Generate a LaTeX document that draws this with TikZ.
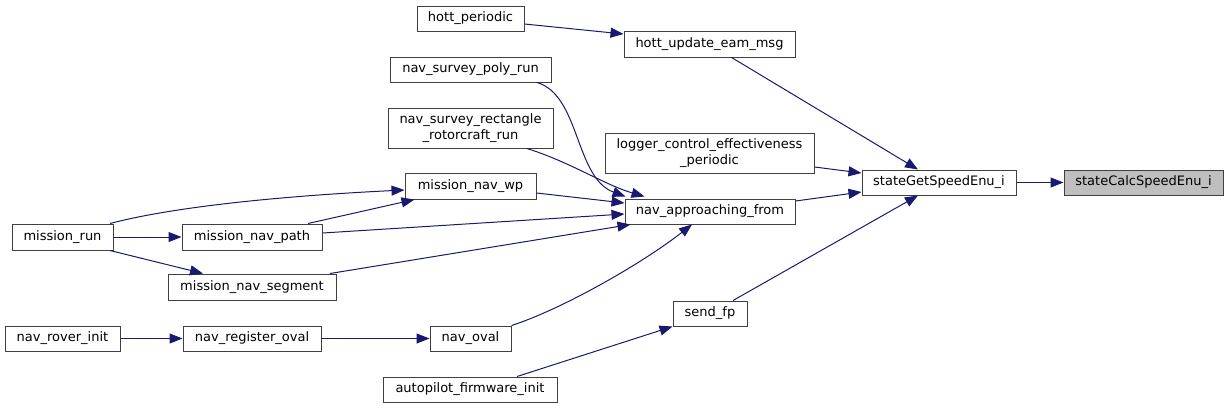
\documentclass[tikz,border=0pt]{standalone}
\usepackage{fontspec}
\setmainfont{DejaVu Sans}
\usetikzlibrary{arrows.meta}
\definecolor{edgeblue}{HTML}{191970}
\definecolor{boxline}{HTML}{404040}
\definecolor{hilite}{HTML}{BFBFBF}
\begin{document}
\begin{tikzpicture}[x=1pt,y=-1pt,
  box/.style 2 args={draw=boxline, line width=1pt, fill=white, inner sep=0pt, align=center,
    minimum width=#1pt, minimum height=#2pt, font=\fontsize{13pt}{16pt}\selectfont},
  call/.style={draw=edgeblue, line width=1pt, -{Triangle[length=13pt,width=10pt]}, edgeblue}]
\useasboundingbox (0,0) rectangle (1228,408);
% nodes
\node[box={101}{26}] (mr) at (62.5,237) {mission\_run};
\node[box={140}{26}] (mp) at (252,237) {mission\_nav\_path};
\node[box={168}{26}] (ms) at (252,287) {mission\_nav\_segment};
\node[box={115}{25}] (nri) at (62.5,338.5) {nav\_rover\_init};
\node[box={138}{25}] (nro) at (252,338.5) {nav\_register\_oval};
\node[box={174}{25}] (afi) at (470,389.5) {autopilot\_firmware\_init};
\node[box={107}{25}] (hp) at (470.5,18.5) {hott\_periodic};
\node[box={161}{25}] (poly) at (470.5,69.5) {nav\_survey\_poly\_run};
\node[box={165}{40}] (rect) at (470.5,128) {nav\_survey\_rectangle\\\_rotorcraft\_run};
\node[box={131}{26}] (wp) at (470.5,186) {mission\_nav\_wp};
\node[box={81}{25}] (nov) at (470.5,338.5) {nav\_oval};
\node[box={171}{26}] (hu) at (709.5,44) {hott\_update\_eam\_msg};
\node[box={209}{40}] (lg) at (709.5,153) {logger\_control\_effectiveness\\\_periodic};
\node[box={170}{25}] (na) at (710,211.5) {nav\_approaching\_from};
\node[box={74}{25}] (sf) at (710,313.5) {send\_fp};
\node[box={154}{25}] (sg) at (939,182.5) {stateGetSpeedEnu\_i};
\node[box={159}{25}, fill=hilite] (sc) at (1143.5,182.5) {stateCalcSpeedEnu\_i};
% edges
\draw[call] ([yshift=-5.5pt]hp.east) -- ([yshift=10pt]hu.west);
\draw[call] ([xshift=22pt]hu.south) -- ([xshift=-21pt]sg.north);
\draw[call] ([yshift=-14pt]lg.east) -- ([yshift=9.5pt]sg.west);
\draw[call] ([yshift=10.5pt]na.east) -- ([yshift=-9.5pt]sg.west);
\draw[call] ([xshift=23pt]sf.north) -- ([xshift=-21pt]sg.south);
\draw[call] (sg.east) -- (sc.west);
\draw[call] ([xshift=66.5pt]poly.south) .. controls (580,95) and (575,178) .. ([xshift=1pt,yshift=2pt]na.north west);
\draw[call] ([xshift=56.5pt]rect.south) .. controls (570,162) and (605,185) .. ([xshift=20pt,yshift=2pt]na.north west);
\draw[call] ([yshift=-7pt]wp.east) -- ([yshift=8.5pt]na.west);
\draw[call] ([yshift=4pt]mp.east) -- ([yshift=-2.5pt]na.west);
\draw[call] ([xshift=78pt]ms.north) -- ([xshift=6pt]na.south west);
\draw[call] (nov.north east) .. controls (560,310) and (640,265) .. ([xshift=-18pt]na.south);
\draw[call] ([xshift=47.5pt]mr.north) .. controls (180,205) and (300,195) .. ([yshift=-4pt]wp.west);
\draw[call] (mr.east) -- (mp.west);
\draw[call] ([xshift=47.5pt]mr.south) -- ([xshift=-49pt]ms.north);
\draw[call] ([xshift=56pt]mp.north) -- ([xshift=10pt]wp.south west);
\draw[call] (nri.east) -- (nro.west);
\draw[call] (nro.east) -- (nov.west);
\draw[call] ([xshift=47pt]afi.north) -- (sf.south west);
\end{tikzpicture}
\end{document}
